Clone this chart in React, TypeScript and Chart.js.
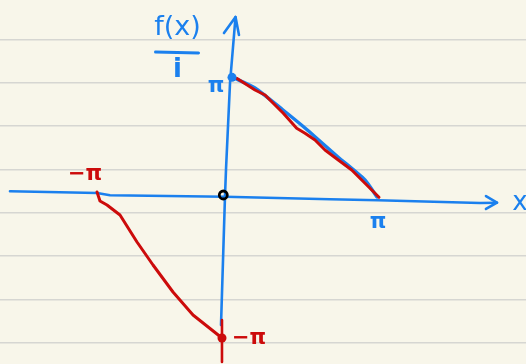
import React, { useEffect, useRef } from "react";
import { Chart, registerables } from "chart.js";

Chart.register(...registerables);

const PI = Math.PI;

// Hand-drawn axes (in chart units)
const xAxisLine = [
  { x: -4.415, y: 0.138 },
  { x: -2.628, y: 0.093 },
  { x: -2.361, y: 0.032 },
  { x: 0, y: -0.005 },
  { x: 2.156, y: -0.074 },
  { x: 3.142, y: -0.101 },
  { x: 5.236, y: -0.173 },
  { x: 5.585, y: -0.165 },
];
const xArrowHead = [
  { x: 5.359, y: 0.013 },
  { x: 5.585, y: -0.16 },
  { x: 5.359, y: -0.332 },
];
const yAxisLine = [
  { x: -0.082, y: -3.418 },
  { x: 0, y: 0.013 },
  { x: 0.021, y: 0.731 },
  { x: 0.103, y: 3.019 },
  { x: 0.216, y: 4.774 },
];
const yArrowHead = [
  { x: -0.021, y: 4.348 },
  { x: 0.216, y: 4.774 },
  { x: 0.287, y: 4.295 },
];

// f(x)/i pieces
const blueRight = [
  { x: 0.144, y: 3.178 },
  { x: 0.616, y: 2.886 },
  { x: 1.191, y: 2.301 },
  { x: 1.643, y: 1.822 },
  { x: 2.32, y: 1.051 },
  { x: 2.875, y: 0.439 },
  { x: 3.121, y: -0.013 },
];
const redRight = [
  { x: 0.24, y: 3.144 },
  { x: 0.616, y: 2.832 },
  { x: 0.821, y: 2.699 },
  { x: 1.027, y: 2.434 },
  { x: 1.197, y: 2.213 },
  { x: 1.472, y: 1.814 },
  { x: 1.643, y: 1.681 },
  { x: 1.848, y: 1.503 },
  { x: 2.053, y: 1.237 },
  { x: 2.326, y: 0.971 },
  { x: 2.602, y: 0.705 },
  { x: 2.875, y: 0.351 },
  { x: 3.162, y: -0.021 },
];
const redLeft = [
  { x: -2.628, y: 0.12 },
  { x: -2.567, y: -0.12 },
  { x: -2.423, y: -0.226 },
  { x: -2.156, y: -0.492 },
  { x: -1.807, y: -1.21 },
  { x: -1.478, y: -1.822 },
  { x: -1.068, y: -2.54 },
  { x: -0.657, y: -3.152 },
  { x: -0.062, y: -3.763 },
];
const redTick = [
  { x: -0.062, y: -3.285 },
  { x: -0.062, y: -4.402 },
];
const bluePoint = [{ x: 0.144, y: 3.17 }];
const redPoint = [{ x: -0.062, y: -3.763 }];
const originPoint = [{ x: -0.035, y: 0.04 }];

// Labels: text, anchor (chart units), colour key
const labelTexts = ["π", "π", "−π", "−π", "x"];
const labelAnchorX = [PI, 0.144, -2.628, -0.062, 5.585];
const labelAnchorY = [-0.101, 3.17, 0.12, -3.763, -0.165];
const labelColors = ["blue", "blue", "red", "red", "blue"];
const titleTop = "f(x)";
const titleBottom = "i";

const paperLines = [0, 1, 2, 3, 4, 5, 6, 7];

const BLUE = "#1b80ee";
const RED = "#cc0b0b";
const PAPER = "#f8f6ea";

const labelOffsets = [
  [0, 22],
  [-16, 9],
  [-12, -17],
  [27, 1],
  [23, 1],
];

const sketchPlugin = {
  id: "sketch",
  beforeDraw(chart: any) {
    const { ctx, width, height } = chart;
    ctx.save();
    ctx.fillStyle = PAPER;
    ctx.fillRect(0, 0, width, height);
    ctx.restore();
  },
  afterDraw(chart: any) {
    const { ctx } = chart;
    const xs = chart.scales.x;
    const ys = chart.scales.y;
    ctx.save();
    ctx.textAlign = "center";
    ctx.textBaseline = "middle";
    labelTexts.forEach((t, i) => {
      const px = xs.getPixelForValue(labelAnchorX[i]) + labelOffsets[i][0];
      const py = ys.getPixelForValue(labelAnchorY[i]) + labelOffsets[i][1];
      ctx.fillStyle = labelColors[i] === "red" ? RED : BLUE;
      ctx.font = t === "x" ? "26px 'DejaVu Sans'" : "bold 21px 'DejaVu Sans'";
      ctx.fillText(t, px, py);
    });
    // title f(x) / i near top of y axis
    const tx = xs.getPixelForValue(yAxisLine[yAxisLine.length - 1].x) - 58;
    const ty = ys.getPixelForValue(yAxisLine[yAxisLine.length - 1].y);
    ctx.fillStyle = BLUE;
    ctx.font = "27px 'DejaVu Sans'";
    ctx.fillText(titleTop, tx, ty + 11);
    ctx.strokeStyle = BLUE;
    ctx.lineWidth = 3;
    ctx.lineCap = "round";
    ctx.beginPath();
    ctx.moveTo(tx - 22, ty + 35);
    ctx.lineTo(tx + 21, ty + 36);
    ctx.stroke();
    ctx.font = "bold 26px 'DejaVu Sans'";
    ctx.fillText(titleBottom, tx, ty + 53);
    ctx.restore();
  },
};

function lineSet(data: any[], color: string, width: number, order: number) {
  return {
    data,
    showLine: true,
    borderColor: color,
    borderWidth: width,
    pointRadius: 0,
    tension: 0,
    fill: false,
    order,
    borderCapStyle: "round",
    borderJoinStyle: "round",
  };
}

export default function App() {
  const ref = useRef<HTMLCanvasElement>(null);
  useEffect(() => {
    document.body.style.margin = "0";
    document.body.style.background = PAPER;
    const canvas = ref.current!;
    const chart = new Chart(canvas, {
      type: "scatter",
      data: {
        datasets: [
          lineSet(xAxisLine, BLUE, 2.6, 10),
          lineSet(xArrowHead, BLUE, 2.6, 10),
          lineSet(yAxisLine, BLUE, 2.6, 10),
          lineSet(yArrowHead, BLUE, 2.6, 10),
          { ...lineSet(blueRight, BLUE, 3.4, 8), tension: 0.2 },
          lineSet(redRight, RED, 3, 5),
          lineSet(redLeft, RED, 3, 5),
          lineSet(redTick, RED, 2.6, 5),
          {
            data: bluePoint,
            pointRadius: 4.5,
            pointBackgroundColor: BLUE,
            pointBorderWidth: 0,
            order: 2,
          },
          {
            data: redPoint,
            pointRadius: 4.5,
            pointBackgroundColor: RED,
            pointBorderWidth: 0,
            order: 2,
          },
          {
            data: originPoint,
            pointRadius: 4,
            pointBackgroundColor: "rgba(0,0,0,0)",
            pointBorderColor: "#000",
            pointBorderWidth: 2.8,
            order: 1,
          },
        ] as any,
      },
      options: {
        animation: false,
        responsive: false,
        layout: { padding: 0, autoPadding: false },
        plugins: {
          legend: { display: false },
          tooltip: { enabled: false },
        },
        scales: {
          x: {
            type: "linear",
            min: -225 / 48.7,
            max: (526 - 225) / 48.7,
            display: false,
          },
          y: {
            type: "linear",
            min: (196.5 - 364) / 37.6,
            max: 196.5 / 37.6,
            display: false,
          },
          y2: {
            type: "linear",
            position: "left",
            reverse: true,
            min: -39.5 / 43.35,
            max: (364 - 39.5) / 43.35,
            afterBuildTicks: (axis: any) => {
              axis.ticks = paperLines.map((v) => ({ value: v }));
            },
            ticks: { display: false },
            border: { display: false },
            grid: { color: "#d6d6d2", lineWidth: 1.6, drawTicks: false },
          },
        },
      } as any,
      plugins: [sketchPlugin],
    });
    return () => chart.destroy();
  }, []);
  return (
    <div style={{ width: 526, height: 364 }}>
      <canvas ref={ref} width={526} height={364} />
    </div>
  );
}
